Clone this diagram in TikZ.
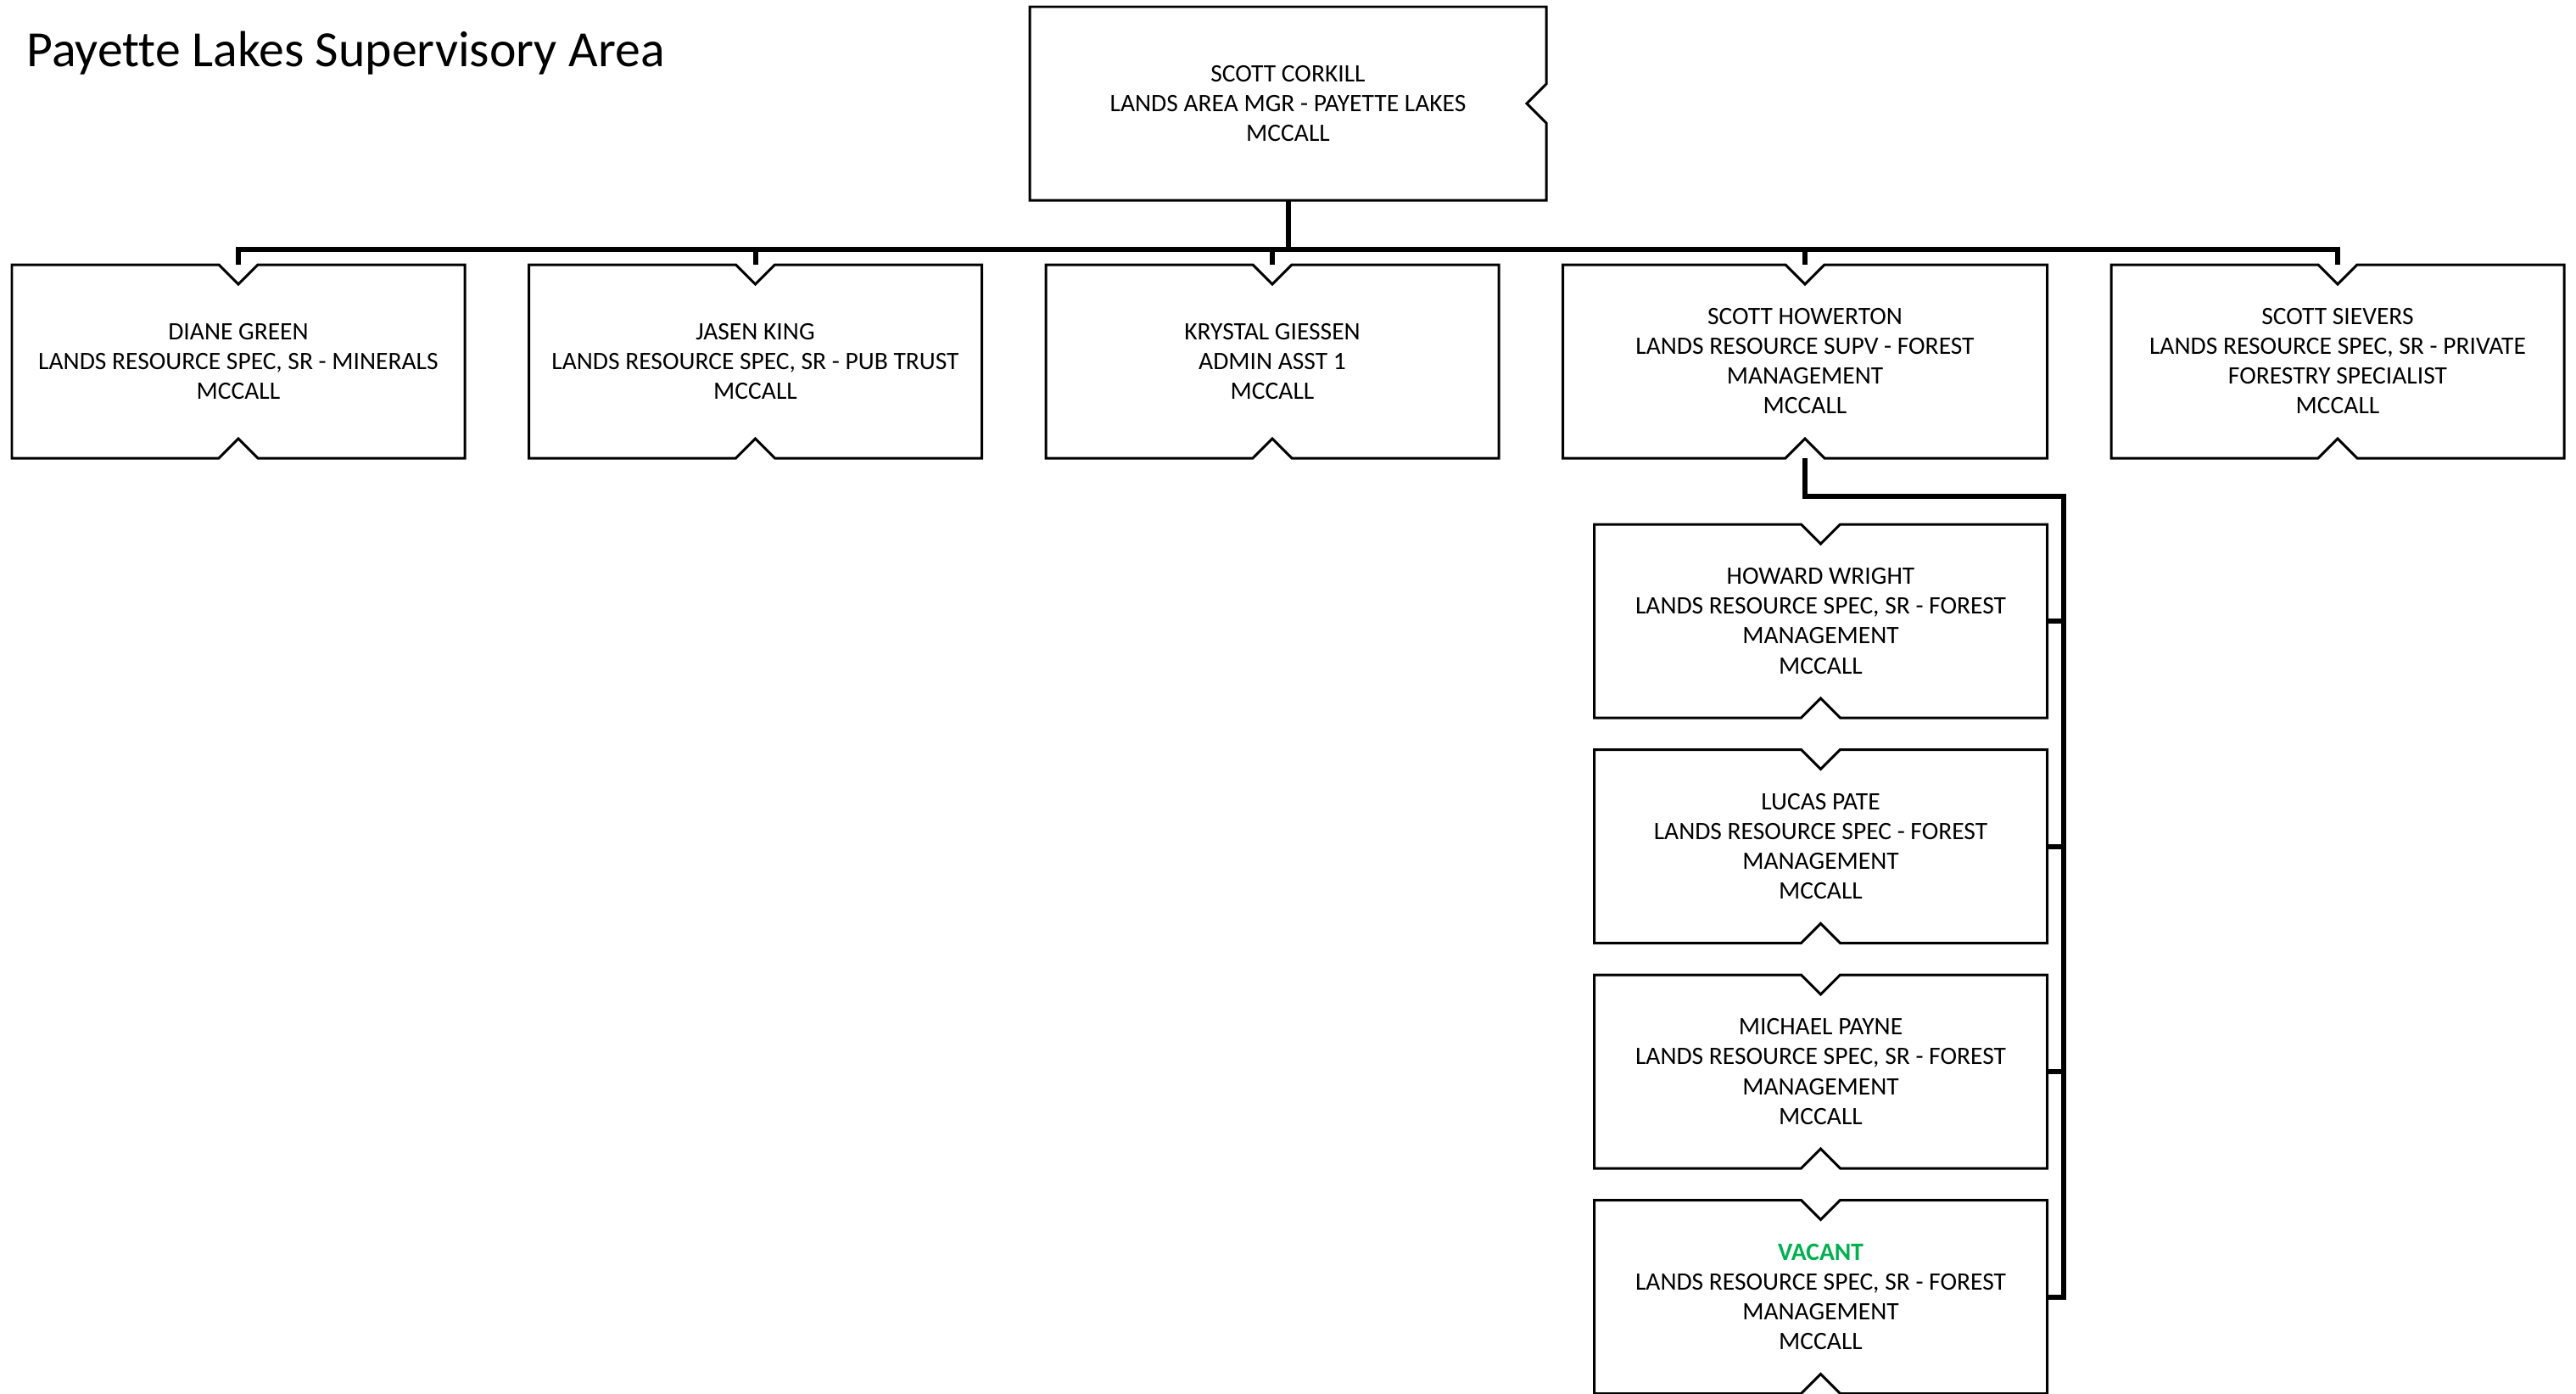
\documentclass[tikz,border=0pt]{standalone}
\usepackage{fontspec}
\setmainfont[Ligatures=NoCommon]{Carlito}
\usepackage{xcolor}
\usetikzlibrary{positioning}
\definecolor{vacantgreen}{RGB}{0,176,80}
% notched outline drawn round a named box
\newcommand{\orgoutline}[1]{\draw[boxline] (#1.north west) -- ([xshift=-0.23cm]#1.north) -- ([yshift=-0.23cm]#1.north) -- ([xshift=0.23cm]#1.north) -- (#1.north east) -- (#1.south east) -- ([xshift=0.23cm]#1.south) -- ([yshift=0.23cm]#1.south) -- ([xshift=-0.23cm]#1.south) -- (#1.south west) -- cycle;}

\begin{document}
\begin{tikzpicture}
\tikzset{orgbox/.style={rectangle,minimum width=5.34cm,minimum height=2.28cm,inner sep=0pt,outer sep=0pt,align=center,font=\fontsize{8.4}{9.96}\selectfont},
boxline/.style={line width=0.85pt,line join=miter},
conn/.style={line width=1.7pt,line join=miter}}
\useasboundingbox (0,0) rectangle (30.37,-16.42);
\node[anchor=base west,inner sep=0pt,font=\fontsize{17}{20}\selectfont](title) at (0.31,-0.78){Payette Lakes Supervisory Area};
\node[orgbox,minimum width=6.09cm](corkill) at (15.185,-1.22){SCOTT CORKILL\\LANDS AREA MGR - PAYETTE LAKES\\MCCALL};
\node[orgbox](green) at (2.81,-4.26){DIANE GREEN\\LANDS RESOURCE SPEC, SR - MINERALS\\MCCALL};
\node[orgbox](king)[right=0.755cm of green]{JASEN KING\\LANDS RESOURCE SPEC, SR - PUB TRUST\\MCCALL};
\node[orgbox](giessen)[right=0.755cm of king]{KRYSTAL GIESSEN\\ADMIN ASST 1\\MCCALL};
\node[orgbox,minimum width=5.71cm](howerton)[right=0.755cm of giessen]{SCOTT HOWERTON\\LANDS RESOURCE SUPV - FOREST\\MANAGEMENT\\MCCALL};
\node[orgbox](sievers)[right=0.755cm of howerton]{SCOTT SIEVERS\\LANDS RESOURCE SPEC, SR - PRIVATE\\FORESTRY SPECIALIST\\MCCALL};
\node[orgbox](wright)[below=0.78cm of howerton.south east,anchor=north east]{HOWARD WRIGHT\\LANDS RESOURCE SPEC, SR - FOREST\\MANAGEMENT\\MCCALL};
\node[orgbox](pate)[below=0.375cm of wright]{LUCAS PATE\\LANDS RESOURCE SPEC - FOREST\\MANAGEMENT\\MCCALL};
\node[orgbox](payne)[below=0.375cm of pate]{MICHAEL PAYNE\\LANDS RESOURCE SPEC, SR - FOREST\\MANAGEMENT\\MCCALL};
\node[orgbox](vacant)[below=0.375cm of payne]{{\bfseries\color{vacantgreen}VACANT}\\LANDS RESOURCE SPEC, SR - FOREST\\MANAGEMENT\\MCCALL};
% outlines
\draw[boxline] (corkill.north west) -- (corkill.north east) -- ([yshift=0.23cm]corkill.east) -- ([xshift=-0.23cm]corkill.east) -- ([yshift=-0.23cm]corkill.east) -- (corkill.south east) -- (corkill.south west) -- cycle;
\orgoutline{green}
\orgoutline{king}
\orgoutline{giessen}
\orgoutline{howerton}
\orgoutline{sievers}
\orgoutline{wright}
\orgoutline{pate}
\orgoutline{payne}
\orgoutline{vacant}
% connectors
\draw[conn] (corkill.south) -- ++(0,-0.58);
\draw[conn] (green.north) -- ++(0,0.18) -| (sievers.north);
\draw[conn] (king.north) -- ++(0,0.18);
\draw[conn] (giessen.north) -- ++(0,0.18);
\draw[conn] (howerton.north) -- ++(0,0.18);
\draw[conn] (howerton.south) -- ++(0,-0.45) -| ([xshift=0.19cm]vacant.east) -- (vacant.east);
\draw[conn] (wright.east) -- ++(0.19,0);
\draw[conn] (pate.east) -- ++(0.19,0);
\draw[conn] (payne.east) -- ++(0.19,0);
\end{tikzpicture}
\end{document}
